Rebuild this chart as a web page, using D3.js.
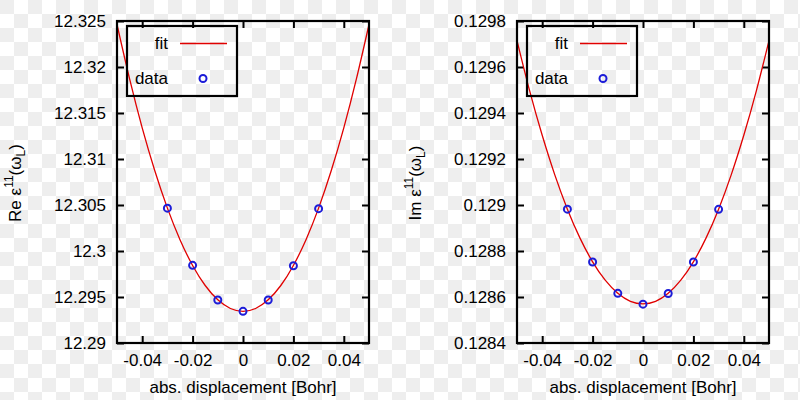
<!DOCTYPE html>
<html><head><meta charset="utf-8">
<script src="https://cdn.jsdelivr.net/npm/d3@7"></script>
<style>
html,body{margin:0;padding:0;background:#fff;}
text{font-family:"Liberation Sans",Arial,Helvetica,sans-serif;fill:#000;}
</style></head>
<body><svg id="c" width="800" height="400"></svg>
<script>
// ---- data ----
const xData = [-0.03, -0.02, -0.01, 0, 0.01, 0.02, 0.03];
const reData = [12.30466, 12.29844, 12.29467, 12.29344, 12.29467, 12.2984, 12.3046];
const imData = [0.128982, 0.128752, 0.128616, 0.128569, 0.128615, 0.128752, 0.128981];
const xFit = [-0.05,-0.045,-0.04,-0.035,-0.03,-0.025,-0.02,-0.015,-0.01,-0.005,0,0.005,0.01,0.015,0.02,0.025,0.03,0.035,0.04,0.045,0.05];
const reFit = [12.32462,12.3187,12.31339,12.30872,12.30466,12.30123,12.29843,12.29625,12.29469,12.29375,12.29344,12.29375,12.29469,12.29625,12.29843,12.30123,12.30466,12.30872,12.31339,12.3187,12.32462];
const imFit = [0.129715,0.129497,0.129303,0.129131,0.128982,0.128856,0.128753,0.128673,0.128616,0.128581,0.12857,0.128581,0.128616,0.128673,0.128753,0.128856,0.128982,0.129131,0.129303,0.129497,0.129715];
const xTicks = [-0.04, -0.02, 0, 0.02, 0.04];
const xTickLabels = ["-0.04", "-0.02", "0", "0.02", "0.04"];
const reTicks = [12.29, 12.295, 12.3, 12.305, 12.31, 12.315, 12.32, 12.325];
const reTickLabels = ["12.29", "12.295", "12.3", "12.305", "12.31", "12.315", "12.32", "12.325"];
const imTicks = [0.1284, 0.1286, 0.1288, 0.129, 0.1292, 0.1294, 0.1296, 0.1298];
const imTickLabels = ["0.1284", "0.1286", "0.1288", "0.129", "0.1292", "0.1294", "0.1296", "0.1298"];
const xLabel = "abs. displacement [Bohr]";
const legendLabels = ["fit", "data"];

const svg = d3.select("#c");

// checkerboard background
const defs = svg.append("defs");
const pat = defs.append("pattern").attr("id","chk").attr("width",28).attr("height",28)
  .attr("patternUnits","userSpaceOnUse");
pat.append("rect").attr("width",28).attr("height",28).attr("fill","#ffffff");
pat.append("rect").attr("x",0).attr("y",0).attr("width",14).attr("height",14).attr("fill","#eeeeee");
pat.append("rect").attr("x",14).attr("y",14).attr("width",14).attr("height",14).attr("fill","#eeeeee");
svg.append("rect").attr("width",800).attr("height",400).attr("fill","url(#chk)");

const FS = 17;
const L = 117, R = 369, T = 21, B = 343;

function panel(ox, yDom, yTicks, yLabels, dataY, fitY, prefix) {
  const g = svg.append("g").attr("transform", `translate(${ox},0)`);
  const x = d3.scaleLinear().domain([-0.05, 0.05]).range([L, R]);
  const y = d3.scaleLinear().domain(yDom).range([B, T]);
  const fmtX = d => xTickLabels[xTicks.indexOf(d)];
  const fmtY = d => yLabels[yTicks.indexOf(d)];
  const tl = 7;

  const ax = [
    g.append("g").attr("transform",`translate(0,${B})`).call(d3.axisBottom(x).tickValues(xTicks).tickSize(-tl).tickPadding(11).tickFormat(fmtX)),
    g.append("g").attr("transform",`translate(0,${T})`).call(d3.axisTop(x).tickValues(xTicks).tickSize(-tl).tickFormat("")),
    g.append("g").attr("transform",`translate(${L},0)`).call(d3.axisLeft(y).tickValues(yTicks).tickSize(-tl).tickPadding(11).tickFormat(fmtY)),
    g.append("g").attr("transform",`translate(${R},0)`).call(d3.axisRight(y).tickValues(yTicks).tickSize(-tl).tickFormat(""))
  ];
  ax.forEach(a => {
    a.attr("font-size",FS).attr("font-family",null);
    a.select(".domain").remove();
    a.selectAll(".tick line").attr("stroke","#000").attr("stroke-width",2);
    a.selectAll(".tick text").attr("fill","#000");
  });

  const line = d3.line().x((d,i)=>x(xFit[i])).y(d=>y(d)).curve(d3.curveNatural);
  g.append("path").datum(fitY).attr("d",line).attr("fill","none").attr("stroke","#e00000").attr("stroke-width",1.3);

  g.selectAll("circle.pt").data(dataY).enter().append("circle").attr("class","pt")
    .attr("cx",(d,i)=>x(xData[i])).attr("cy",d=>y(d)).attr("r",3.5)
    .attr("fill","none").attr("stroke","#1c1cd8").attr("stroke-width",2);

  // frame
  g.append("rect").attr("x",L).attr("y",T).attr("width",R-L).attr("height",B-T)
    .attr("fill","none").attr("stroke","#000").attr("stroke-width",2.2);

  // legend
  const lx0 = 127, ly0 = 26, lw = 110, lh = 70;
  g.append("rect").attr("x",lx0).attr("y",ly0).attr("width",lw).attr("height",lh)
    .attr("fill","none").attr("stroke","#000").attr("stroke-width",2.2);
  g.append("text").attr("x",168).attr("y",49).attr("text-anchor","end").attr("font-size",FS).text(legendLabels[0]);
  g.append("line").attr("x1",180).attr("x2",227).attr("y1",43.5).attr("y2",43.5).attr("stroke","#e00000").attr("stroke-width",1.3);
  g.append("text").attr("x",168).attr("y",84).attr("text-anchor","end").attr("font-size",FS).text(legendLabels[1]);
  g.append("circle").attr("cx",203).attr("cy",78.5).attr("r",3.5).attr("fill","none").attr("stroke","#1c1cd8").attr("stroke-width",2);

  // x label
  g.append("text").attr("x",243).attr("y",393).attr("text-anchor","middle").attr("font-size",FS).text(xLabel);

  // y label
  const yl = g.append("text").attr("transform","translate(21,183) rotate(-90)").attr("text-anchor","middle").attr("font-size",FS);
  yl.append("tspan").text(prefix + " ε");
  yl.append("tspan").attr("font-size",12).attr("dy",-8).text("11");
  yl.append("tspan").attr("dy",8).text("(ω");
  yl.append("tspan").attr("font-size",12).attr("dy",4).text("L");
  yl.append("tspan").attr("dy",-4).text(")");
  return g;
}

panel(0, [12.29, 12.325], reTicks, reTickLabels, reData, reFit, "Re");
panel(400, [0.1284, 0.1298], imTicks, imTickLabels, imData, imFit, "Im");
</script></body></html>
